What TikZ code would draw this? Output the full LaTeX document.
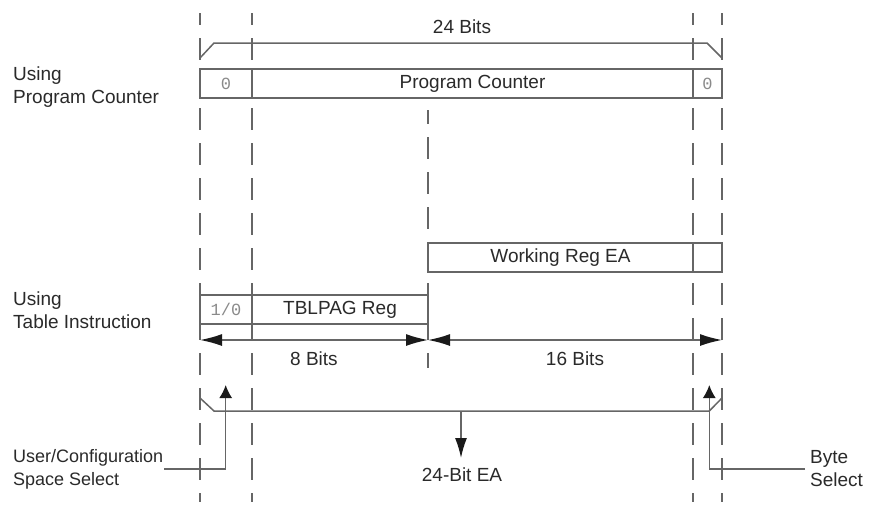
\documentclass[tikz,border=0pt]{standalone}
\usepackage{fontspec}
\setmainfont{Liberation Sans}
\newfontfamily\monof{Liberation Mono}
\usetikzlibrary{arrows.meta}
\definecolor{linecol}{HTML}{666666}
\definecolor{txtcol}{HTML}{2A2A2A}
\definecolor{monocol}{HTML}{8A8A8A}
\definecolor{headcol}{HTML}{1A1A1A}
\begin{document}
\begin{tikzpicture}[x=1pt,y=-1pt,
  lbl/.style={font=\fontsize{19}{23}\selectfont, text=txtcol, inner sep=0pt, align=left},
  cell/.style={draw=linecol, line width=1.5pt, minimum height=29pt, inner sep=0pt,
    font=\fontsize{19}{23}\selectfont, text=txtcol},
  bitcell/.style={cell, font=\monof\fontsize{17}{19}\selectfont, text=monocol},
  guide/.style={draw=linecol, line width=1.5pt, dash pattern=on 22pt off 13pt},
  conn/.style={draw=linecol, line width=1.5pt},
  dimarrow/.style={conn, {Latex[length=22pt,width=12pt,color=headcol]}-{Latex[length=22pt,width=12pt,color=headcol]}},
  uparrow/.style={conn, -{Latex[length=13pt,width=13pt,color=headcol]}},
  downarrow/.style={conn, -{Latex[length=20pt,width=12pt,color=headcol]}}
]
\useasboundingbox (0,0) rectangle (873,509);
\fill[white] (0,0) rectangle (873,509);

% guide coordinates
\coordinate (g1t) at (200,13);  \coordinate (g1b) at (200,502);
\coordinate (g2t) at (252,13);  \coordinate (g2b) at (252,502);
\coordinate (g3t) at (693,13);  \coordinate (g3b) at (693,502);
\coordinate (g4t) at (722,13);  \coordinate (g4b) at (722,502);
\coordinate (gmt) at (428,110); \coordinate (gmb) at (428,233);
\coordinate (gnt) at (428,283); \coordinate (gnb) at (428,368);

\draw[guide, dash phase=10pt] (g1t) -- (g1b);
\draw[guide, dash phase=10pt] (g2t) -- (g2b);
\draw[guide, dash phase=10pt] (g3t) -- (g3b);
\draw[guide, dash phase=10pt] (g4t) -- (g4b);
\draw[guide, dash phase=8pt] (gmt) -- (gmb);
\draw[guide] (gnt) -- (gnb);

% top bracket
\coordinate (tb1) at (200,58);
\coordinate (tb2) at (214,43);
\coordinate (tb3) at (707,43);
\coordinate (tb4) at (722,58);
\draw[conn] (tb1) -- (tb2) -- (tb3) -- (tb4);
\node[lbl, anchor=base] (bits24) at (462,33) {24 Bits};

% program counter row
\node[bitcell, minimum width=52pt] (pc0) at (226,83.5) {0};
\node[cell, minimum width=441pt] (pc) at (472.5,83.5) {Program Counter};
\node[bitcell, minimum width=29pt] (pcb) at (707.5,83.5) {0};
\node[lbl, anchor=base west] (usepc) at (13,103) {Using\\Program Counter};

% working reg row
\node[cell, minimum width=265pt] (wr) at (560.5,257.5) {Working Reg EA};
\node[cell, minimum width=29pt] (wrb) at (707.5,257.5) {};

% table row
\node[bitcell, minimum width=52pt] (tb0) at (226,309.5) {1/0};
\node[cell, minimum width=176pt] (tb) at (340,309.5) {TBLPAG Reg};
\node[lbl, anchor=base west] (usetb) at (13,328) {Using\\Table Instruction};

% dimension arrows
\coordinate (a1) at (200,340);
\coordinate (a2) at (428,340);
\coordinate (a3) at (722,340);
\draw[dimarrow] (a1) -- (a2);
\draw[dimarrow] (a2) -- (a3);
\node[lbl, anchor=base] (b8) at (314,365) {8 Bits};
\node[lbl, anchor=base] (b16) at (575,365) {16 Bits};

% bottom bracket
\coordinate (bb1) at (200,398);
\coordinate (bb2) at (214,411);
\coordinate (bb3) at (709.3,411);
\coordinate (bb4) at (722,398);
\draw[conn] (bb1) -- (bb2) -- (bb3) -- (bb4);
\coordinate (eatop) at (461,411);
\coordinate (eatip) at (461,458);
\draw[downarrow] (eatop) -- (eatip);
\node[lbl, anchor=base] (ea) at (462,481.7) {24-Bit EA};

% select arrows
\node[lbl, anchor=base west, font=\fontsize{18}{23}\selectfont] (usel) at (13,485) {User/Configuration\\Space Select};
\node[lbl, anchor=base west] (bsel) at (810,486) {Byte\\Select};
\coordinate (ul1) at (164,469);
\coordinate (ul2) at (225.7,469);
\coordinate (ul3) at (225.7,385);
\draw[uparrow] (ul1) -- (ul2) -- (ul3);
\coordinate (br1) at (805,469);
\coordinate (br2) at (709.3,469);
\coordinate (br3) at (709.3,385);
\draw[uparrow] (br1) -- (br2) -- (br3);
\end{tikzpicture}
\end{document}
